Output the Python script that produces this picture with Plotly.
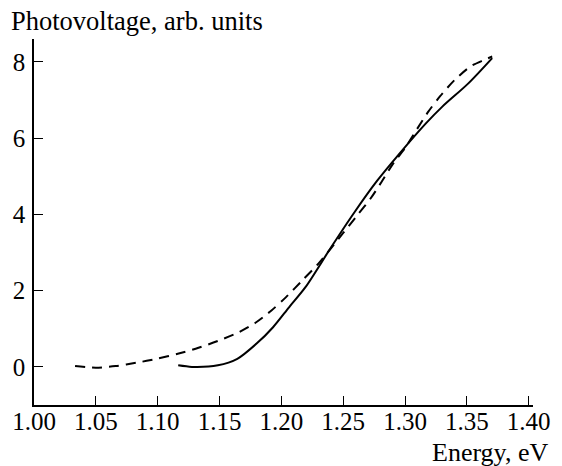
import plotly.graph_objects as go

# Solid curve
solid_energy = [1.1166, 1.1277, 1.1487, 1.1644, 1.18, 1.1933, 1.2064, 1.2195, 1.2405, 1.259,
                1.2772, 1.2957, 1.3167, 1.33, 1.351, 1.3705]
solid_pv = [0.04, 0.0, 0.04, 0.21, 0.61, 1.04, 1.57, 2.09, 3.15, 4.05,
            4.87, 5.6, 6.38, 6.82, 7.43, 8.1]

# Dashed curve
dash_energy = [1.0332, 1.050, 1.066, 1.083, 1.099, 1.117, 1.133, 1.1487, 1.1644, 1.1788,
               1.192, 1.2038, 1.217, 1.23, 1.2497, 1.2615, 1.272, 1.281, 1.2904, 1.2998,
               1.309, 1.319, 1.3284, 1.340, 1.353, 1.364, 1.3705]
dash_pv = [0.02, -0.02, 0.02, 0.11, 0.21, 0.35, 0.5, 0.68, 0.89, 1.15,
           1.48, 1.83, 2.27, 2.71, 3.5, 3.98, 4.41, 4.85, 5.33, 5.73,
           6.2, 6.7, 7.1, 7.52, 7.88, 8.05, 8.14]

x_ticks = [1.00, 1.05, 1.10, 1.15, 1.20, 1.25, 1.30, 1.35, 1.40]
x_tick_labels = ["1.00", "1.05", "1.10", "1.15", "1.20", "1.25", "1.30", "1.35", "1.40"]
y_ticks = [0, 2, 4, 6, 8]

FONT = "Liberation Serif, Times New Roman, serif"

fig = go.Figure()
fig.add_trace(go.Scatter(x=dash_energy, y=dash_pv, mode="lines",
                         line=dict(color="black", width=2, dash="10px,7px", shape="spline", smoothing=0.8),
                         showlegend=False))
fig.add_trace(go.Scatter(x=solid_energy, y=solid_pv, mode="lines",
                         line=dict(color="black", width=2, shape="spline", smoothing=0.8),
                         showlegend=False))

fig.update_layout(
    width=562, height=466,
    margin=dict(l=31, r=18, t=39, b=61),
    plot_bgcolor="white", paper_bgcolor="white",
    font=dict(family=FONT, size=25, color="black"),
    xaxis=dict(range=[1.0, 1.4035], tickvals=x_ticks, ticktext=x_tick_labels,
               ticks="inside", ticklen=9, tickwidth=1.3, tickcolor="black",
               showline=True, linecolor="black", linewidth=1.5, showgrid=False, zeroline=False,
               tickfont=dict(family=FONT, size=25), ticklabelstandoff=-7),
    yaxis=dict(range=[-1, 8.6], tickvals=y_ticks,
               ticks="inside", ticklen=9, tickwidth=1.3, tickcolor="black",
               showline=True, linecolor="black", linewidth=1.5, showgrid=False, zeroline=False,
               tickfont=dict(family=FONT, size=25), ticklabelstandoff=2),
    annotations=[
        dict(text="Photovoltage, arb. units", xref="paper", yref="paper",
             x=-26/513, y=1 + (39 - 21) / 366, xanchor="left", yanchor="middle",
             showarrow=False, font=dict(family=FONT, size=26.5)),
        dict(text="Energy, eV", xref="paper", yref="paper",
             x=1 + 17/513, y=-(452 - 405) / 366, xanchor="right", yanchor="middle",
             showarrow=False, font=dict(family=FONT, size=26)),
    ],
)

fig.write_html("out.html")
